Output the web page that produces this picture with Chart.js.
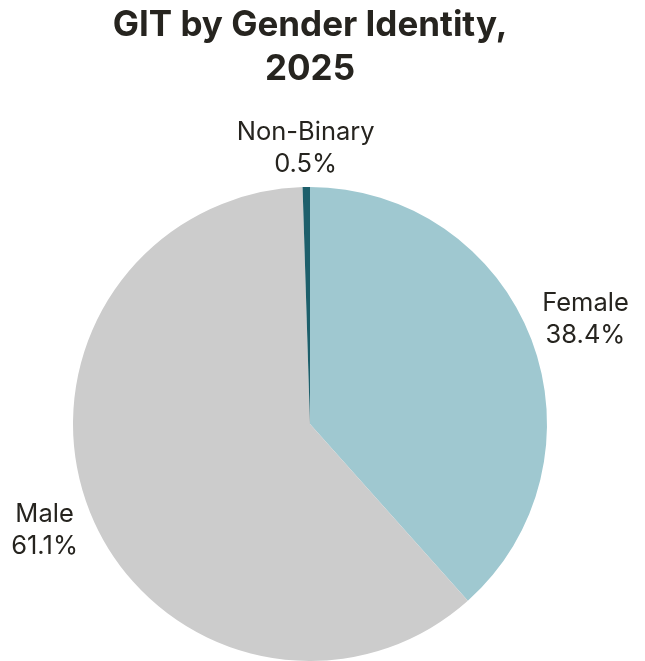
<!DOCTYPE html>
<html>
<head>
<meta charset="utf-8">
<script src="https://cdn.jsdelivr.net/npm/chart.js@4/dist/chart.umd.min.js"></script>
<style>
  html, body { margin: 0; padding: 0; background: #fff; }
  #wrap { width: 645px; height: 661px; }
</style>
</head>
<body>
<div id="wrap"><canvas id="pie"></canvas></div>
<script>
const categories = ["Female", "Male", "Non-Binary"];
const shares = [38.4, 61.1, 0.5];
const sliceColors = ["#9fc8d0", "#cccccc", "#1d5f6b"];

const textColor = "#26241f";

// labels outside the pie, "Name\nxx.x%"
const outsideLabels = {
  id: "outsideLabels",
  afterDatasetsDraw(chart) {
    const ctx = chart.ctx;
    const meta = chart.getDatasetMeta(0);
    const lineH = 32;
    const gap = 6;
    ctx.save();
    ctx.font = "400 25.5px Inter, sans-serif";
    ctx.fillStyle = textColor;
    ctx.textAlign = "center";
    ctx.textBaseline = "middle";
    meta.data.forEach((arc, i) => {
      const mid = (arc.startAngle + arc.endAngle) / 2;
      const dx = Math.cos(mid), dy = Math.sin(mid);
      const lines = [categories[i], shares[i].toFixed(1) + "%"];
      const w = Math.max(...lines.map(t => ctx.measureText(t).width));
      const h = lines.length * lineH;
      const reach = Math.abs(dx) * w / 2 + Math.abs(dy) * h / 2;
      const cx = arc.x + dx * (arc.outerRadius + gap + reach);
      const cy = arc.y + dy * (arc.outerRadius + gap + reach);
      lines.forEach((t, k) => {
        ctx.fillText(t, cx, cy - h / 2 + lineH / 2 + k * lineH);
      });
    });
    ctx.restore();
  }
};

new Chart(document.getElementById("pie"), {
  type: "pie",
  data: {
    labels: categories,
    datasets: [{
      data: shares,
      backgroundColor: sliceColors,
      borderWidth: 0
    }]
  },
  options: {
    responsive: true,
    maintainAspectRatio: false,
    animation: false,
    layout: { padding: { left: 73, right: 98, top: 0, bottom: 0 } },
    plugins: {
      legend: { display: false },
      tooltip: { enabled: false },
      title: {
        display: true,
        text: ["GIT by Gender Identity,", "2025"],
        color: textColor,
        font: { family: "Inter, sans-serif", size: 35, weight: "bold", lineHeight: 1.25 },
        padding: { top: 4, bottom: 95.5 }
      }
    }
  },
  plugins: [outsideLabels]
});
</script>
</body>
</html>
